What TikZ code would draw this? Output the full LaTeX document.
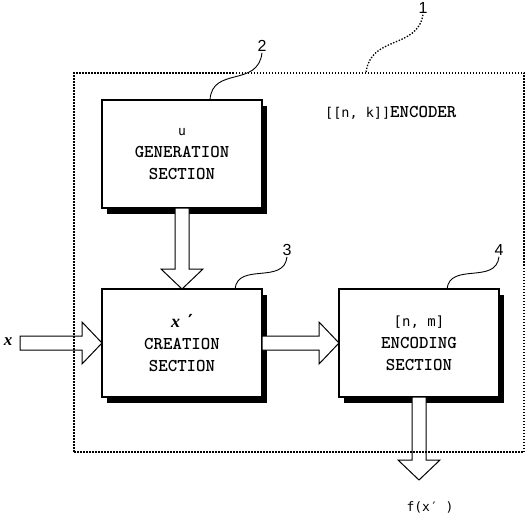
\documentclass[tikz,border=0pt]{standalone}
\usepackage{fontspec}
\setmainfont{Liberation Serif}
\newfontfamily\smono{DejaVu Sans Mono}
\newfontfamily\numsans{Liberation Sans}
\newfontfamily\symfont{DejaVu Sans}
\usetikzlibrary{calc,shadows}

\tikzset{
  blockarrow/.style={draw, fill=white, line width=1pt, line join=miter,
    to path={
      ($(\tikztotarget)!20pt!(\tikztostart)$) coordinate (hb)
      ($(\tikztostart)!7pt!90:(\tikztotarget)$)
      -- ($(hb)!7pt!90:(\tikztotarget)$)
      -- ($(hb)!21pt!90:(\tikztotarget)$)
      -- (\tikztotarget)
      -- ($(hb)!21pt!-90:(\tikztotarget)$)
      -- ($(hb)!7pt!-90:(\tikztotarget)$)
      -- ($(\tikztostart)!7pt!-90:(\tikztotarget)$)
      -- cycle}},
}

\begin{document}
\begin{tikzpicture}[x=1pt, y=-1pt,
    box/.style={draw, line width=1.3pt, fill=white, outer sep=0pt,
      minimum width=160pt, minimum height=108pt, align=center,
      font={\fontsize{18}{22}\ttfamily\bfseries},
      drop shadow={shadow xshift=5pt, shadow yshift=-6pt, opacity=1, fill=black}},
    frame/.style={draw, line width=1.6pt, dash pattern=on 1.5pt off 1.5pt,
      minimum width=450pt, minimum height=379pt, outer sep=0pt},
    num/.style={font={\fontsize{16}{18}\numsans}, inner sep=1pt},
    leader/.style={line width=0.9pt},
    dotleader/.style={line width=1.3pt, dash pattern=on 1.4pt off 1.6pt}]
    \useasboundingbox (0,0) rectangle (527,516);

    % 方框
    \node[box] (gen) at (182,154) {{\smono\mdseries\fontsize{13}{22}\selectfont u}\\GENERATION\\SECTION};
    \node[box] (creat) at (182,343) {{\rmfamily\itshape x}\hspace{8pt}{\symfont ′}\\CREATION\\SECTION};
    \node[box] (enc) at (419,343) {{\smono\mdseries\fontsize{14}{22}\selectfont [n, m]}\\ENCODING\\SECTION};

    % 输入输出
    \node[font={\fontsize{17}{20}\selectfont\bfseries\itshape}] (xlab) at (8,342) {x};
    \coordinate (xin) at (20,343);
    \coordinate (fout) at (419,480);
    \node[font={\fontsize{13}{16}\smono}] (flab) at (430,507) {f(x′ )};

    % 箭头
    \draw[blockarrow] (xin) to (creat.west);
    \draw[blockarrow] (gen.south) to (creat.north);
    \draw[blockarrow] (creat.east) to (enc.west);
    \draw[blockarrow] (enc.south) to (fout);

    % 虚线框
    \node[frame] (coder) at (299,262.5) {};
    \node[anchor=west, inner sep=0pt] (title) at (325,113)
      {{\fontsize{13.5}{16}\smono [[n, k]]}{\fontsize{18}{16}\ttfamily\bfseries ENCODER}};

    % 编号和引线
    \node[num] (n1) at (423,8) {1};
    \node[num] (n2) at (262,46) {2};
    \node[num] (n3) at (287,250) {3};
    \node[num] (n4) at (499,250) {4};
    \draw[dotleader] (n1.south) .. controls +(-6,35) and +(4,-38) .. ([xshift=67pt]coder.north);
    \draw[leader] (n2.south) .. controls +(-4,35) and +(2,-34) .. ([xshift=28pt]gen.north);
    \draw[leader] (n3.south) .. controls +(-3,28) and +(3,-27) .. ([xshift=53pt]creat.north);
    \draw[leader] (n4.south) .. controls +(-3,28) and +(3,-27) .. ([xshift=28pt]enc.north);
\end{tikzpicture}
\end{document}
